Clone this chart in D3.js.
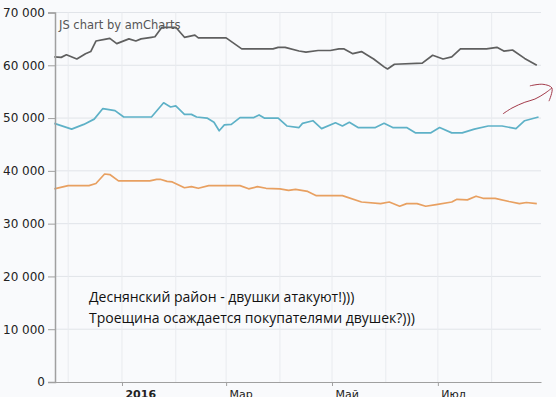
<!DOCTYPE html>
<html lang="ru">
<head>
<meta charset="UTF-8">
<title>Двушки</title>
<style>
  body { margin: 0; background: #f9fafc; }
  svg { display: block; }
</style>
</head>
<body>
<script src="https://cdn.jsdelivr.net/npm/d3@7"></script>
<div id="chart"></div>
<script>

// series: [date, price]
const darkSeries = [
  ["2015-11-23",61600],["2015-11-27",61500],["2015-11-30",62000],["2015-12-06",61200],
  ["2015-12-11",62200],["2015-12-14",62600],["2015-12-17",64600],["2015-12-22",64900],
  ["2015-12-25",65100],["2015-12-29",64100],["2016-01-05",65000],["2016-01-09",64600],
  ["2016-01-12",65000],["2016-01-18",65300],["2016-01-20",65400],["2016-01-24",67200],
  ["2016-02-01",67200],["2016-02-06",65300],["2016-02-12",65700],["2016-02-14",65200],
  ["2016-03-01",65200],["2016-03-10",63100],["2016-03-28",63100],["2016-03-31",63400],
  ["2016-04-04",63400],["2016-04-12",62700],["2016-04-16",62500],["2016-04-23",62800],
  ["2016-04-30",62800],["2016-05-05",63100],["2016-05-08",63100],["2016-05-13",62200],
  ["2016-05-18",62600],["2016-05-21",62000],["2016-05-25",61200],["2016-05-31",59700],
  ["2016-06-02",59300],["2016-06-06",60200],["2016-06-22",60400],["2016-06-28",61900],
  ["2016-07-04",61200],["2016-07-09",61600],["2016-07-14",63100],["2016-07-29",63100],
  ["2016-08-04",63400],["2016-08-08",62700],["2016-08-13",62900],["2016-08-20",61300],
  ["2016-08-27",60000]
];
const tealSeries = [
  ["2015-11-23",49000],["2015-12-03",47900],["2015-12-10",48800],["2015-12-16",49800],
  ["2015-12-21",51800],["2015-12-28",51400],["2016-01-02",50200],["2016-01-18",50200],
  ["2016-01-25",52900],["2016-01-29",52100],["2016-02-01",52300],["2016-02-06",50700],
  ["2016-02-10",50700],["2016-02-13",50200],["2016-02-19",50000],["2016-02-23",49200],
  ["2016-02-26",47600],["2016-02-29",48700],["2016-03-04",48800],["2016-03-09",50100],
  ["2016-03-17",50100],["2016-03-20",50600],["2016-03-23",50000],["2016-03-31",50000],
  ["2016-04-05",48500],["2016-04-12",48200],["2016-04-14",49000],["2016-04-20",49500],
  ["2016-04-25",48000],["2016-05-03",49100],["2016-05-07",48500],["2016-05-11",49200],
  ["2016-05-16",48200],["2016-05-26",48200],["2016-05-31",49000],["2016-06-05",48200],
  ["2016-06-13",48200],["2016-06-18",47200],["2016-06-27",47200],["2016-07-02",48200],
  ["2016-07-09",47200],["2016-07-15",47200],["2016-07-22",47900],["2016-07-30",48500],
  ["2016-08-07",48500],["2016-08-15",48000],["2016-08-20",49500],["2016-08-28",50200]
];
const orangeSeries = [
  ["2015-11-23",36600],["2015-12-01",37200],["2015-12-13",37200],["2015-12-17",37600],
  ["2015-12-22",39400],["2015-12-25",39300],["2015-12-30",38100],["2016-01-17",38100],
  ["2016-01-21",38400],["2016-01-23",38400],["2016-01-27",38000],["2016-01-30",37900],
  ["2016-02-06",36800],["2016-02-10",37000],["2016-02-14",36700],["2016-02-20",37200],
  ["2016-03-09",37200],["2016-03-14",36600],["2016-03-19",37000],["2016-03-24",36700],
  ["2016-04-01",36600],["2016-04-06",36300],["2016-04-10",36500],["2016-04-17",36100],
  ["2016-04-22",35300],["2016-05-07",35300],["2016-05-18",34100],["2016-05-29",33800],
  ["2016-06-03",34100],["2016-06-09",33300],["2016-06-13",33800],["2016-06-19",33800],
  ["2016-06-24",33300],["2016-06-30",33600],["2016-07-09",34100],["2016-07-12",34600],
  ["2016-07-18",34500],["2016-07-23",35200],["2016-07-27",34800],["2016-08-03",34800],
  ["2016-08-11",34200],["2016-08-17",33800],["2016-08-21",34000],["2016-08-27",33800]
];

const yTicks = [0, 10000, 20000, 30000, 40000, 50000, 60000, 70000];
const xTickDates = ["2016-01-01", "2016-03-01", "2016-05-01", "2016-07-01"];
const xTickLabels = ["2016", "Мар", "Май", "Июл"];
const noteLines = ["Деснянский район - двушки атакуют!)))", "Троещина осаждается покупателями двушек?)))"];

// hand drawn arrow: [days after 2016-01-01, value]
const arrowShaft = [[219.5,50800],[224.7,51900],[232.1,53000],[237.9,53600],[243.7,54700],[247.7,55700]];
const arrowHead = [[235,56100],[242.5,56400],[247.7,55700],[246,53200]];

const margin = {top: 12.5, right: 15, bottom: 15, left: 55},
    width = 556 - margin.left - margin.right,
    height = 397 - margin.top - margin.bottom;

const parse = d3.timeParse("%Y-%m-%d");
const jan1 = new Date(2016, 0, 1);
const dayOff = d => new Date(jan1.getTime() + d * 864e5);

const svg = d3.select("#chart")
  .append("svg")
    .attr("width", 556)
    .attr("height", 397)
  .append("g")
    .attr("transform", `translate(${margin.left}, ${margin.top})`);

const x = d3.scaleTime()
  .domain([new Date(2015, 10, 23, 10), new Date(2016, 7, 29, 10)])
  .range([0, width]);

const y = d3.scaleLinear()
  .domain([0, 70000])
  .range([height, 0]);

// grid
svg.append("g")
  .selectAll("line")
  .data(yTicks.slice(1))
  .join("line")
    .attr("x1", 0).attr("x2", width)
    .attr("y1", d => y(d)).attr("y2", d => y(d))
    .attr("stroke", "#e1e4e9");

svg.append("g")
  .selectAll("line")
  .data(d3.timeMonth.range(...x.domain()))
  .join("line")
    .attr("x1", d => x(d)).attr("x2", d => x(d))
    .attr("y1", 0).attr("y2", height)
    .attr("stroke", "#e9ebef");

// watermark
svg.append("text")
  .attr("x", 4)
  .attr("y", 16)
  .style("font-family", "DejaVu Sans")
  .style("font-size", "11.5px")
  .style("fill", "#555")
  .text("JS chart by amCharts");

// lines
const line = d3.line()
  .x(d => x(parse(d[0])))
  .y(d => y(d[1]));

[[darkSeries, "#5f5f5f"], [tealSeries, "#5eb1c7"], [orangeSeries, "#e8a061"]].forEach(([s, c]) => {
  svg.append("path")
    .datum(s)
    .attr("fill", "none")
    .attr("stroke", c)
    .attr("stroke-width", 1.7)
    .attr("stroke-linejoin", "round")
    .attr("d", line);
});

// axes
const yAxis = svg.append("g")
  .call(d3.axisLeft(y)
    .tickValues(yTicks)
    .tickSize(7)
    .tickPadding(3)
    .tickFormat(d => d3.format(",")(d).replace(/,/g, " ")));
yAxis.select(".domain").attr("stroke", "#a0a0a0").attr("stroke-width", 1.5);
yAxis.selectAll(".tick line").attr("stroke", "#a0a0a0");
yAxis.selectAll("text")
  .style("font-family", "DejaVu Sans")
  .style("font-size", "12px")
  .style("fill", "#222");

const xAxis = svg.append("g")
  .attr("transform", `translate(0, ${height})`)
  .call(d3.axisBottom(x)
    .tickValues(xTickDates.map(parse))
    .tickSize(4)
    .tickSizeOuter(0)
    .tickFormat((d, i) => xTickLabels[i]));
xAxis.select(".domain").attr("stroke", "#a0a0a0").attr("stroke-width", 1.2);
xAxis.selectAll(".tick line").attr("stroke", "#a0a0a0");
xAxis.selectAll("text")
  .attr("text-anchor", "start")
  .attr("x", 3)
  .attr("y", 8)
  .style("font-family", "DejaVu Sans")
  .style("font-size", "11px")
  .style("font-weight", (d, i) => i === 0 ? "bold" : "normal")
  .style("fill", "#222");

// annotation
svg.selectAll("text.note")
  .data(noteLines)
  .join("text")
    .attr("class", "note")
    .attr("x", x(parse("2015-12-13")))
    .attr("y", (d, i) => y(15200 - i * 4000))
    .style("font-family", "Open Sans")
    .style("font-size", "14px")
    .style("fill", "#111")
    .text(d => d);

const arrowLine = d3.line()
  .x(d => x(dayOff(d[0])))
  .y(d => y(d[1]))
  .curve(d3.curveCatmullRom);

[arrowShaft, arrowHead].forEach(a => {
  svg.append("path")
    .datum(a)
    .attr("fill", "none")
    .attr("stroke", "#a33a4a")
    .attr("stroke-width", 1)
    .attr("d", arrowLine);
});

</script>
</body>
</html>
